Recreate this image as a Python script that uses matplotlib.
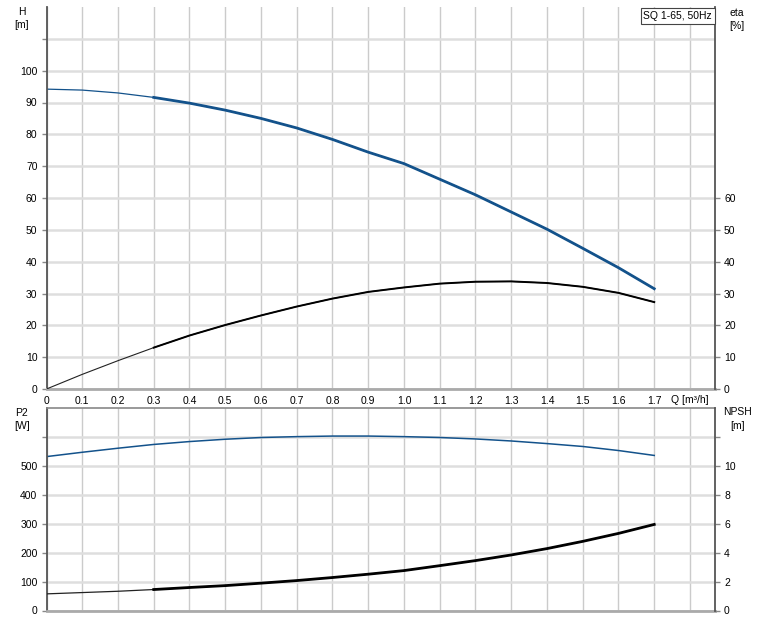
import matplotlib.pyplot as plt
import numpy as np

plt.rcParams['font.family'] = ['Liberation Sans', 'DejaVu Sans']

# flow [m3/h]
q = [0.0, 0.1, 0.2, 0.3, 0.4, 0.5, 0.6, 0.7, 0.8, 0.9,
     1.0, 1.1, 1.2, 1.3, 1.4, 1.5, 1.6, 1.7]
# head [m]
head = [94.2, 93.9, 93.0, 91.6, 89.8, 87.6, 85.0, 82.0, 78.4, 74.4,
        70.8, 65.9, 61.0, 55.6, 50.2, 44.2, 38.1, 31.5]
# efficiency [%]
eta = [0.0, 4.6, 8.9, 13.0, 16.8, 20.1, 23.1, 25.9, 28.4, 30.5,
       31.9, 33.1, 33.7, 33.8, 33.3, 32.1, 30.2, 27.3]
# shaft power [W]
p2 = [532, 547, 561, 574, 584, 592, 598, 601, 603, 603,
      601, 598, 593, 586, 577, 567, 553, 536]
# NPSH [m]
npsh = [1.15, 1.24, 1.33, 1.45, 1.59, 1.72, 1.89, 2.07, 2.28, 2.51,
        2.76, 3.10, 3.45, 3.84, 4.28, 4.78, 5.33, 5.95]

op = 3  # operating range starts here (thicker line)

BLUE = '#13528b'
W, H = 765, 626

fig = plt.figure(figsize=(W / 100, H / 100), dpi=100)
ax1 = fig.add_axes([46.5 / W, 1 - 389 / H, 668.5 / W, 382 / H])
ax1r = ax1.twinx()
ax2 = fig.add_axes([46.5 / W, 1 - 610.5 / H, 668.5 / W, 202.5 / H])
ax2r = ax2.twinx()

xt = np.round(np.arange(0, 1.81, 0.1), 1)

for ax in (ax1, ax2):
    ax.set_xlim(0, 1.87)
    ax.set_xticks(xt)
    ax.set_axisbelow(True)
    ax.grid(axis='x', color='#cbcbcb', lw=1.0)
    ax.grid(axis='y', color='#dedede', lw=1.8)
    ax.tick_params(axis='x', length=0, pad=5, labelsize=7.5)
    ax.tick_params(axis='y', direction='out', length=3.5, width=1,
                   color='#888888', pad=3, labelsize=7.5)
    ax.spines['left'].set_color('#555555')
    ax.spines['left'].set_linewidth(1.3)
    ax.spines['right'].set_visible(False)
    ax.spines['bottom'].set_color('#aaaaaa')
    ax.spines['bottom'].set_linewidth(2)

for ax in (ax1r, ax2r):
    for s in ('left', 'top', 'bottom'):
        ax.spines[s].set_visible(False)
    ax.spines['right'].set_color('#555555')
    ax.spines['right'].set_linewidth(1.3)
    ax.tick_params(axis='y', direction='out', length=3.5, width=1,
                   color='#888888', pad=3, labelsize=7.5)

ax1.spines['top'].set_visible(False)
ax2.spines['top'].set_color('#888888')
ax2.spines['top'].set_linewidth(1.2)

# top panel
ax1.set_ylim(0, 120)
ax1.set_yticks(np.arange(0, 111, 10))
ax1.set_yticklabels([str(v) for v in range(0, 101, 10)] + [''])
ax1.set_xticklabels(['0'] + [f'{v:.1f}' for v in xt[1:-1]] + [''])
ax1.text(1.8, -11 / 382, 'Q [m³/h]', transform=ax1.get_xaxis_transform(),
         ha='center', va='center', fontsize=7.5)

ax1r.set_ylim(0, 120)
ax1r.set_yticks(np.arange(0, 61, 10))

ax1.plot(q, head, color=BLUE, lw=0.9)
ax1.plot(q[op:], head[op:], color=BLUE, lw=2)
ax1r.plot(q, eta, color='#222222', lw=0.8)
ax1r.plot(q[op:], eta[op:], color='black', lw=1.4)

# bottom panel
ax2.set_ylim(0, 700)
ax2.set_yticks(np.arange(0, 601, 100))
ax2.set_yticklabels([str(v) for v in range(0, 501, 100)] + [''])
ax2.set_xticklabels([])
ax2r.set_ylim(0, 14)
ax2r.set_yticks(np.arange(0, 13, 2))
ax2r.set_yticklabels([str(v) for v in range(0, 11, 2)] + [''])

ax2.plot(q, p2, color=BLUE, lw=1.1)
ax2r.plot(q, npsh, color='#222222', lw=0.9)
ax2r.plot(q[op:], npsh[op:], color='black', lw=2)

# unit labels
def lab(x, y, s):
    fig.text(x / W, 1 - y / H, s, ha='center', va='center', fontsize=7.5)

lab(22, 12, 'H')
lab(22, 25, '[m]')
lab(737, 13, 'eta')
lab(737, 26, '[%]')
lab(22, 413, 'P2')
lab(22, 426, '[W]')
lab(738, 412, 'NPSH')
lab(738, 426, '[m]')

fig.text(712 / W, 1 - 16 / H, 'SQ 1-65, 50Hz', ha='right', va='center',
         fontsize=7.5,
         bbox=dict(boxstyle='square,pad=0.25', fc='white', ec='#444444',
                   lw=0.8))

fig.savefig('out.png', dpi=100)
